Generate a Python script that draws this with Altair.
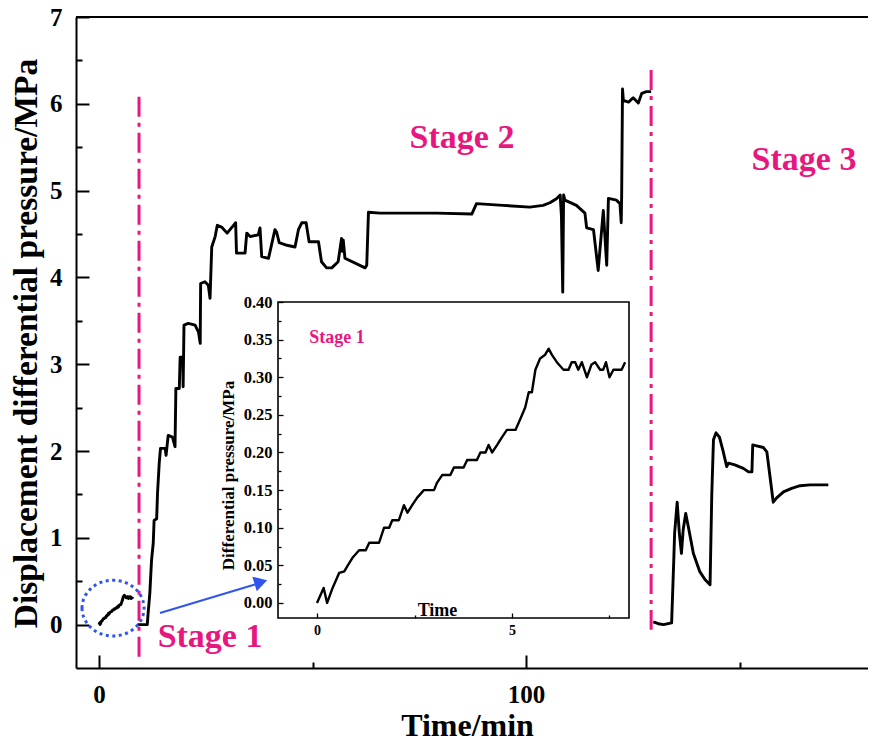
import altair as alt
import pandas as pd

# ---------------- data ----------------
# Stage 1 (also the inset): time (min) and differential pressure (MPa)
s1_t = [0, 0.17, 0.26, 0.4, 0.57, 0.7, 0.79, 0.91, 1.08, 1.25, 1.34, 1.59, 1.72, 1.85, 1.93,
        2.1, 2.23, 2.32, 2.44, 2.57, 2.74, 3.0, 3.08, 3.21, 3.42, 3.51, 3.76, 3.85, 4.1, 4.19,
        4.32, 4.4, 4.49, 4.62, 4.74, 4.87, 5.09, 5.26, 5.34, 5.43, 5.51, 5.6, 5.72, 5.85, 5.94,
        6.02, 6.15, 6.32, 6.45, 6.53, 6.62, 6.7, 6.79, 6.92, 7.04, 7.13, 7.26, 7.34, 7.41, 7.5,
        7.6, 7.81, 7.9]
s1_v = [0, 0.02, 0.0, 0.02, 0.04, 0.042, 0.05, 0.06, 0.07, 0.07, 0.08, 0.08, 0.10, 0.10, 0.11,
        0.11, 0.13, 0.12, 0.13, 0.14, 0.15, 0.15, 0.16, 0.17, 0.17, 0.18, 0.18, 0.19, 0.19, 0.20,
        0.20, 0.21, 0.20, 0.21, 0.22, 0.23, 0.23, 0.25, 0.26, 0.28, 0.28, 0.31, 0.325, 0.33, 0.338,
        0.33, 0.32, 0.31, 0.31, 0.32, 0.32, 0.31, 0.32, 0.30, 0.317, 0.32, 0.31, 0.31, 0.32, 0.30,
        0.31, 0.31, 0.32]

s2_t = [9.0, 11.3, 11.5, 11.9, 12.3, 12.7, 12.9, 13.5, 13.7, 14.1, 14.4, 15.5, 15.7, 16.2, 17.2,
        17.8, 18.0, 18.8, 19.0, 19.6, 19.7, 19.9, 20.9, 22.5, 23.3, 23.7, 23.8, 24.8, 25.6, 26.0,
        26.4, 27.2, 27.7, 28.7, 30.0, 31.5, 32.0, 32.2, 34.2, 34.6, 35.4, 37.3, 37.7, 38.1, 39.7,
        41.2, 41.6, 42.2, 44.0, 45.9, 46.7, 47.5, 48.5, 49.2, 51.4, 52.1, 53.3, 54.5, 56.0, 56.8,
        57.0, 57.2, 57.6, 62.3, 62.7, 63.1, 65.8, 79.1, 87.3, 88.4, 94.6, 100.9, 104.0, 105.6, 107.2,
        108.0, 108.3, 108.6, 108.8, 109.1, 111.8, 113.8, 114.2, 115.8, 116.9, 118.1, 118.9, 119.3,
        121.2, 122.0, 122.3, 122.4, 122.6, 122.8, 124.0, 125.1, 126.3, 127.1, 128.2, 129.3]
s2_v = [0.0, 0.0, 0.13, 0.36, 0.74, 0.94, 1.2, 1.22, 1.51, 1.86, 2.03, 2.03, 1.95, 2.18, 2.16,
        2.05, 2.72, 2.72, 3.08, 3.08, 2.74, 3.45, 3.47, 3.45, 3.37, 3.24, 3.93, 3.95, 3.91, 3.76,
        4.35, 4.47, 4.60, 4.58, 4.51, 4.60, 4.63, 4.28, 4.28, 4.51, 4.47, 4.49, 4.57, 4.24, 4.22,
        4.55, 4.52, 4.40, 4.37, 4.35, 4.55, 4.63, 4.63, 4.41, 4.41, 4.18, 4.11, 4.11, 4.18, 4.45,
        4.30, 4.43, 4.22, 4.11, 4.14, 4.75, 4.74, 4.74, 4.73, 4.85, 4.83, 4.81, 4.83, 4.86, 4.91,
        4.95, 4.70, 3.83, 4.95, 4.89, 4.83, 4.74, 4.57, 4.55, 4.08, 4.77, 4.14, 4.91,
        4.89, 4.85, 4.63, 4.95, 6.17, 6.04, 6.02, 6.07, 6.01, 6.12, 6.14, 6.14]

s3_t = [129.8, 131.0, 132.2, 134.1, 134.6, 134.8, 135.4, 135.9, 136.4, 136.8, 137.4, 138.0, 139.2,
        140.7, 141.9, 143.1, 143.5, 143.9, 144.5, 145.3, 146.2, 147.0, 147.4, 148.9, 150.9, 152.1,
        152.9, 153.1, 154.0, 155.6, 156.4, 157.1, 157.9, 158.7, 160.3, 162.2, 164.2, 166.5, 168.5,
        170.8]
s3_v = [0.03, 0.01, 0.0, 0.02, 0.74, 1.05, 1.41, 1.06, 0.82, 1.09, 1.28, 1.13, 0.82,
        0.61, 0.52, 0.46, 1.49, 2.13, 2.21, 2.16, 1.99, 1.82, 1.86, 1.84, 1.80, 1.76,
        1.76, 2.07, 2.06, 2.04, 1.99, 1.72, 1.41, 1.46, 1.53, 1.57, 1.60, 1.61, 1.61,
        1.61]

stage_rule_x = [9.37, 129.3]
stage_rule_top = [6.08, 6.39]
stage_rule_bottom = [-0.37, -0.06]

stage_text = ["Stage 1", "Stage 2", "Stage 3"]
stage_text_x = [26.0, 85.0, 165.1]
stage_text_y = [-0.26, 5.49, 5.24]

main_y_ticks = [0, 1, 2, 3, 4, 5, 6, 7]
main_y_minor = [0.5, 1.5, 2.5, 3.5, 4.5, 5.5, 6.5]
main_x_ticks = [0, 100]
main_x_minor = [50, 150]

inset_y_ticks = [0.0, 0.05, 0.10, 0.15, 0.20, 0.25, 0.30, 0.35, 0.40]
inset_y_minor = [0.025, 0.075, 0.125, 0.175, 0.225, 0.275, 0.325, 0.375]
inset_x_ticks = [0, 5]
inset_x_minor = [2.5, 7.5]

circle_x = [3.28]
circle_y = [0.19]
arrow_x = [14.29, 36.5]
arrow_y = [0.134, 0.462]
arrow_head_x = [37.9]
arrow_head_y = [0.49]

# ---------------- styling ----------------
MAG = "#E8177F"
BLUE = "#2F55EE"
FONT = "Liberation Serif"

W, H = 792, 651
X_DOM = [-5.39, 180.09]
Y_DOM = [-0.5, 7]
IX_DOM = [-1, 8]
IY_DOM = [-0.02, 0.4]


def xs():
    return alt.Scale(domain=X_DOM, nice=False, zero=False)


def ys():
    return alt.Scale(domain=Y_DOM, nice=False, zero=False)


def ixs():
    return alt.Scale(domain=IX_DOM, range=[202, 553], nice=False, zero=False)


def iys():
    return alt.Scale(domain=IY_DOM, range=[601, 285], nice=False, zero=False)


rows = []
idx = 0
for seg, (ts, vs) in enumerate([(s1_t, s1_v), (s2_t, s2_v), (s3_t, s3_v)]):
    for t, v in zip(ts, vs):
        rows.append({"t": t, "v": v, "seg": seg, "idx": idx})
        idx += 1
main_df = pd.DataFrame(rows)
inset_df = pd.DataFrame({"t": s1_t, "v": s1_v, "idx": list(range(len(s1_t)))})

# top frame line
top_line = alt.Chart(pd.DataFrame({"a": [X_DOM[0]], "b": [X_DOM[1]], "y": [Y_DOM[1]]})).mark_rule(
    color="black", strokeWidth=2
).encode(
    x=alt.X("a:Q", scale=xs(), axis=None),
    x2="b:Q",
    y=alt.Y("y:Q", scale=ys(), axis=None),
)

# minor ticks of main axes
main_minor = alt.Chart(pd.DataFrame({"t": [0], "v": [0]})).mark_point(opacity=0).encode(
    x=alt.X("t:Q", scale=xs(), axis=alt.Axis(orient="bottom", values=main_x_minor, labels=False, domain=False,
                                              tickSize=alt.ExprRef(expr="-6"), tickWidth=2, title=None)),
    y=alt.Y("v:Q", scale=ys(), axis=alt.Axis(orient="left", values=main_y_minor, labels=False, domain=False,
                                              tickSize=alt.ExprRef(expr="-6"), tickWidth=2, title=None)),
)

main_line = alt.Chart(main_df).mark_line(color="black", strokeWidth=2.9, strokeJoin="round").encode(
    x=alt.X("t:Q", scale=xs(), axis=alt.Axis(
        orient="bottom", values=main_x_ticks, format="d", tickSize=alt.ExprRef(expr="-13"), tickWidth=2,
        domainWidth=2, labelFontSize=25, labelPadding=27, labelFlush=False,
        title="Time/min", titleFontSize=32, titleX=391, titleY=67,
        titleBaseline="alphabetic", titleAlign="center")),
    y=alt.Y("v:Q", scale=ys(), axis=alt.Axis(
        orient="left", values=main_y_ticks, format="d", tickSize=alt.ExprRef(expr="-13"), tickWidth=2,
        domainWidth=2, labelFontSize=25, labelPadding=27,
        title="Displacement differential pressure/MPa", titleFontSize=33.5,
        titleX=-40, titleY=326, titleBaseline="alphabetic", titleAlign="center", titleAngle=270)),
    detail="seg:N",
    order="idx:Q",
)

rules_df = pd.DataFrame({"x": stage_rule_x, "top": stage_rule_top, "bot": stage_rule_bottom})
stage_rules = alt.Chart(rules_df).mark_rule(color=MAG, strokeWidth=3, strokeDash=[20, 6, 4, 6]).encode(
    x=alt.X("x:Q", scale=xs(), axis=None),
    y=alt.Y("top:Q", scale=ys(), axis=None),
    y2="bot:Q",
)

texts_df = pd.DataFrame({"label": stage_text, "x": stage_text_x, "y": stage_text_y})
stage_texts = alt.Chart(texts_df).mark_text(
    font=FONT, fontWeight="bold", fontSize=34, color=MAG, align="center", baseline="alphabetic"
).encode(
    x=alt.X("x:Q", scale=xs(), axis=None),
    y=alt.Y("y:Q", scale=ys(), axis=None),
    text="label:N",
)

ellipse = alt.Chart(pd.DataFrame({"x": circle_x, "y": circle_y})).mark_point(
    shape="M -1 0 A 1 0.9 0 1 0 1 0 A 1 0.9 0 1 0 -1 0 Z",
    size=3844, filled=False, color=BLUE, strokeWidth=3, strokeDash=[3, 3.5], opacity=1
).encode(
    x=alt.X("x:Q", scale=xs(), axis=None),
    y=alt.Y("y:Q", scale=ys(), axis=None),
)

arrow_line = alt.Chart(pd.DataFrame({"x": arrow_x, "y": arrow_y})).mark_line(
    color=BLUE, strokeWidth=2
).encode(
    x=alt.X("x:Q", scale=xs(), axis=None),
    y=alt.Y("y:Q", scale=ys(), axis=None),
)

arrow_head = alt.Chart(pd.DataFrame({"x": arrow_head_x, "y": arrow_head_y})).mark_point(
    shape="triangle-right", size=230, filled=True, color=BLUE, angle=343, opacity=1
).encode(
    x=alt.X("x:Q", scale=xs(), axis=None),
    y=alt.Y("y:Q", scale=ys(), axis=None),
)

# ---------------- inset ----------------
inset_box = alt.Chart(pd.DataFrame({"a": [IX_DOM[0]], "b": [IX_DOM[1]], "c": [IY_DOM[0]], "d": [IY_DOM[1]]})).mark_rect(
    fill="white", stroke="black", strokeWidth=1.6
).encode(
    x=alt.X("a:Q", scale=ixs(), axis=None),
    x2="b:Q",
    y=alt.Y("c:Q", scale=iys(), axis=None),
    y2="d:Q",
)

inset_minor = alt.Chart(pd.DataFrame({"t": [0], "v": [0]})).mark_point(opacity=0).encode(
    x=alt.X("t:Q", scale=ixs(), axis=alt.Axis(orient="bottom", offset=-50, values=inset_x_minor, zindex=2,
                                               labels=False, domain=False, tickSize=alt.ExprRef(expr="-3"),
                                               tickWidth=1.3, title=None)),
    y=alt.Y("v:Q", scale=iys(), axis=alt.Axis(orient="left", offset=-202, values=inset_y_minor, zindex=2,
                                               labels=False, domain=False, tickSize=alt.ExprRef(expr="-3"),
                                               tickWidth=1.3, title=None)),
)

inset_line = alt.Chart(inset_df).mark_line(color="black", strokeWidth=2.4, strokeJoin="round").encode(
    x=alt.X("t:Q", scale=ixs(), axis=alt.Axis(
        orient="bottom", offset=-50, values=inset_x_ticks, format="d", domain=False, zindex=2,
        tickSize=alt.ExprRef(expr="-5"), tickWidth=1.3, labelFontSize=14, labelPadding=10,
        labelFlush=False, title="Time", titleFontSize=18, titleX=361, titleY=-3,
        titleBaseline="alphabetic", titleAlign="center")),
    y=alt.Y("v:Q", scale=iys(), axis=alt.Axis(
        orient="left", offset=-202, values=inset_y_ticks, format=".2f", domain=False, zindex=2,
        tickSize=alt.ExprRef(expr="-5"), tickWidth=1.3, labelFontSize=16.5, labelPadding=11,
        title="Differential pressure/MPa", titleFontSize=17, titleX=-50, titleY=458,
        titleBaseline="middle", titleAlign="center", titleAngle=270)),
    order="idx:Q",
)

inset_text = alt.Chart(pd.DataFrame({"label": ["Stage 1"], "x": [0.51], "y": [0.346]})).mark_text(
    font=FONT, fontWeight="bold", fontSize=18, color=MAG, align="center", baseline="alphabetic"
).encode(
    x=alt.X("x:Q", scale=ixs(), axis=None),
    y=alt.Y("y:Q", scale=iys(), axis=None),
    text="label:N",
)

chart = alt.layer(
    top_line, main_minor, main_line, stage_rules, stage_texts, ellipse, arrow_line, arrow_head,
    inset_box, inset_minor, inset_line, inset_text
).resolve_scale(
    x="independent", y="independent"
).properties(
    width=W, height=H,
    padding={"left": 68, "top": 9, "right": 0, "bottom": 68},
    autosize=alt.AutoSizeParams(type="none"),
).configure_view(
    stroke=None
).configure_axis(
    grid=False, domainColor="black", tickColor="black", labelColor="black", titleColor="black",
    labelFont=FONT, titleFont=FONT, labelFontWeight="bold", titleFontWeight="bold",
)

chart.save("out.html", embed_options={"renderer": "svg", "actions": False})
